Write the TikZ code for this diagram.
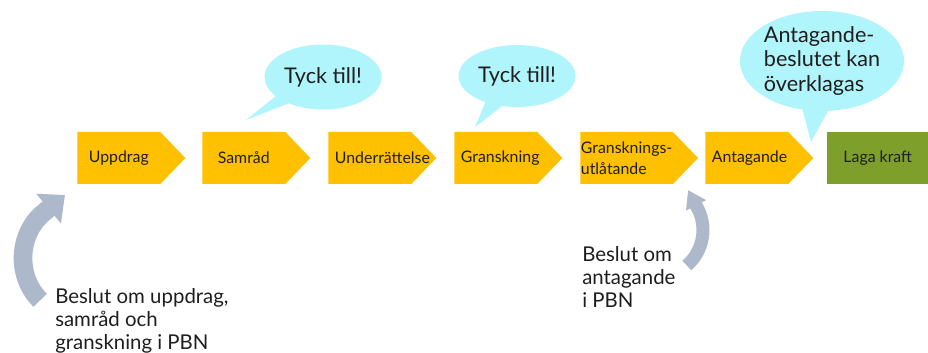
\documentclass[tikz,border=0pt]{standalone}
\usepackage{fontspec}
\setmainfont{Lato}
\usetikzlibrary{shapes.symbols,shapes.callouts,arrows.meta}
\definecolor{chevyellow}{HTML}{FFC000}
\definecolor{kraftgreen}{HTML}{7F9F2B}
\definecolor{bubblecyan}{HTML}{AFF5FB}
\definecolor{arrowgrey}{HTML}{ADB9CA}
\definecolor{textdark}{HTML}{1E1E1E}
\begin{document}
\begin{tikzpicture}[x=0.75pt,y=0.75pt,
    chevron/.style={signal,signal to=east,signal pointer angle=92,fill=chevyellow,
        text=textdark,text width=52.25pt,align=center,minimum height=39pt,
        inner xsep=5pt,inner ysep=0pt,font=\fontsize{11.9}{13.5}\selectfont,anchor=west},
    bubble/.style={ellipse callout,fill=bubblecyan,text=textdark,inner sep=0pt,
        callout pointer arc=18,font=\fontsize{16.2}{18.4}\selectfont},
    note/.style={text=textdark,align=left,inner sep=0pt,anchor=north west,
        font=\fontsize{15.3}{17.5}\selectfont},
    bendarrow/.style={arrowgrey,line cap=butt}]
    \useasboundingbox (0,0) rectangle (928,353);
    % stegen
    \node[chevron] (uppdrag) at (77,195) {Uppdrag};
    \node[chevron] (samrad) at (202,195) {Samråd};
    \node[chevron] (underr) at (328,195) {Underrättelse};
    \node[chevron] (gransk) at (454,195) {Granskning};
    \node[chevron,align=left,text width=,inner xsep=0.5pt] (utlat) at (580,195) {Gransknings-\\[2pt]utlåtande};
    \node[chevron] (antag) at (705,195) {Antagande};
    \node[fill=kraftgreen,text=textdark,minimum width=75.75pt,minimum height=39pt,anchor=west,
        font=\fontsize{11.9}{13.5}\selectfont] (kraft) at (827,195) {Laga kraft};
    % pratbubblor
    \node[bubble,minimum width=87.75pt,minimum height=48.75pt,callout absolute pointer={(246,233)}]
        (tyck1) at (323,276) {Tyck till!};
    \node[bubble,minimum width=87.75pt,minimum height=46.5pt,callout absolute pointer={(475,226)}]
        (tyck2) at (517,277) {Tyck till!};
    \node[bubble,align=left,minimum width=118pt,minimum height=75pt,callout absolute pointer={(811,211)}]
        (overkl) at (822,292) {Antagande-\\beslutet kan\\överklagas};
    % beslut
    \node[note] (beslut1) at (55,65) {Beslut om uppdrag,\\samråd och\\granskning i PBN};
    \node[note] (beslut2) at (582,107) {Beslut om\\antagande\\i PBN};
    \coordinate (tip1) at (65,158);
    \coordinate (tip2) at (688,163);
    \draw[bendarrow,line width=14pt,-{Triangle[width=28pt,length=16pt]}]
        (40.2,52.7) arc[start angle=229,end angle=125,x radius=50,y radius=56] -- (tip1);
    \draw[bendarrow,line width=9.75pt,-{Triangle[width=16pt,length=13pt]}]
        (686.8,87.5) arc[start angle=-49,end angle=30,radius=47] -- (tip2);
\end{tikzpicture}
\end{document}
